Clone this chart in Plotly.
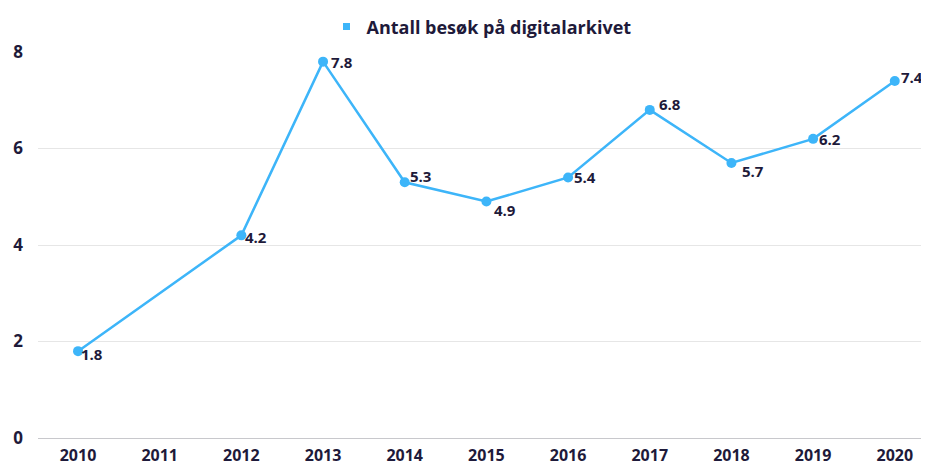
import plotly.graph_objects as go

years = ["2010", "2011", "2012", "2013", "2014", "2015", "2016", "2017", "2018", "2019", "2020"]
visits = [1.8, None, 4.2, 7.8, 5.3, 4.9, 5.4, 6.8, 5.7, 6.2, 7.4]
series_name = "Antall besøk på digitalarkivet"
y_ticks = [0, 2, 4, 6, 8]

# label placement offsets (pixels) relative to each marker
label_dx = [2, 0, 3, 7, 4, 7, 5, 8, 10, 5, 5]
label_dy = [-3, 0, -2, 0, 6, -8, 0, 6, -8, 0, 4]

color = "#3db5f9"
dark = "#1e1a3a"
font_family = "Open Sans, Lato, sans-serif"

xs = list(range(len(years)))

fig = go.Figure()
fig.add_trace(go.Scatter(
    x=xs, y=visits, mode="lines+markers",
    connectgaps=True,
    line=dict(color=color, width=2.5),
    marker=dict(color=color, size=10),
    showlegend=False, cliponaxis=False, hoverinfo="x+y",
))
fig.add_trace(go.Scatter(
    x=[None], y=[None], mode="markers", name=series_name,
    marker=dict(color=color, size=7, symbol="square"),
    showlegend=True,
))

for i, v in enumerate(visits):
    if v is None:
        continue
    fig.add_annotation(
        x=xs[i], y=v, text=f"{v}", showarrow=False,
        xanchor="left", yanchor="middle",
        xshift=label_dx[i], yshift=label_dy[i], borderpad=0,
        font=dict(family=font_family, size=15, color=dark, weight="bold"),
    )

fig.update_layout(
    width=921, height=459,
    margin=dict(l=30, r=4, t=44, b=29, autoexpand=False),
    plot_bgcolor="white", paper_bgcolor="white",
    font=dict(family=font_family, color=dark),
    legend=dict(orientation="h", x=0.5, xanchor="center", y=1.065, yanchor="middle",
                font=dict(size=18, weight="bold", color=dark),
                itemwidth=30),
    xaxis=dict(
        tickmode="array", tickvals=xs, ticktext=years, automargin=False,
        range=[-0.49, 10.37], showgrid=False, zeroline=False,
        showline=True, linecolor="#c8c8cc", linewidth=1,
        tickfont=dict(size=16, weight="bold", color=dark), ticks="", ticklabelstandoff=3,
    ),
    yaxis=dict(
        range=[0, 8.0], tickvals=y_ticks, showgrid=True, gridcolor="#e6e6e6",
        zeroline=False, showline=False, automargin=False,
        tickfont=dict(size=17, weight="bold", color=dark), ticks="", ticklabelstandoff=14,
    ),
)

fig.write_html("out.html")
